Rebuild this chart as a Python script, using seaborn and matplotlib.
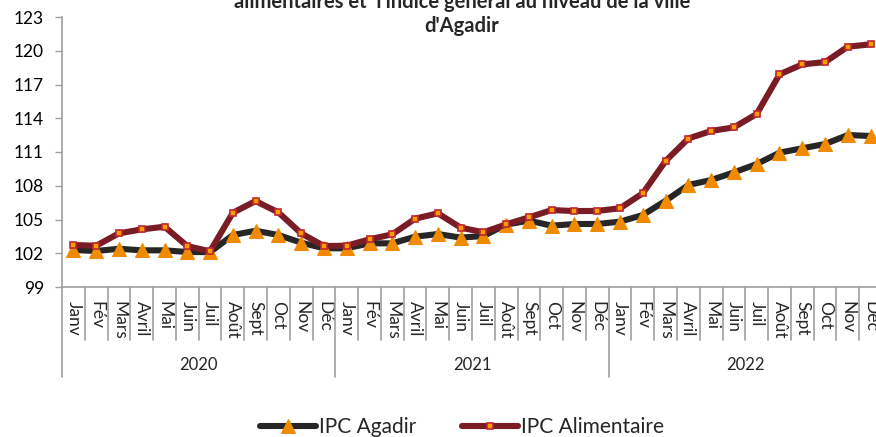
import matplotlib
matplotlib.use("Agg")
import matplotlib.pyplot as plt
import seaborn as sns
import pandas as pd
import numpy as np

months = ["Janv", "Fév", "Mars", "Avril", "Mai", "Juin", "Juil", "Août", "Sept", "Oct", "Nov", "Déc"]
years = ["2020", "2021", "2022"]

ipc_agadir = [102.29, 102.2, 102.4, 102.26, 102.26, 102.11, 102.1, 103.62, 104.0, 103.62, 102.94, 102.44,
              102.44, 102.88, 102.88, 103.47, 103.71, 103.39, 103.53, 104.55, 104.9, 104.45, 104.6, 104.6,
              104.81, 105.4, 106.67, 108.07, 108.51, 109.19, 109.93, 110.94, 111.33, 111.71, 112.51, 112.42]
ipc_alim = [102.73, 102.67, 103.77, 104.12, 104.36, 102.64, 102.17, 105.6, 106.64, 105.63, 103.77, 102.64,
            102.67, 103.24, 103.68, 105.07, 105.55, 104.28, 103.86, 104.57, 105.19, 105.84, 105.75, 105.76,
            106.0, 107.33, 110.2, 112.2, 112.87, 113.19, 114.38, 117.9, 118.79, 118.99, 120.36, 120.57]

title_lines = ["alimentaires et  l'indice général au niveau de la ville", "d'Agadir"]
yticks = [99, 102, 105, 108, 111, 114, 117, 120, 123]

sns.set_theme(style="white")
plt.rcParams['font.family'] = ['Lato', 'DejaVu Sans']

labels = [m for y in years for m in months]
idx = np.arange(len(labels))
df = pd.DataFrame({"idx": idx, "IPC Agadir": ipc_agadir, "IPC Alimentaire": ipc_alim})

fig = plt.figure(figsize=(8.76, 4.37), dpi=100)
W, H = 876, 437
ax = fig.add_axes([62 / W, (H - 287) / H, 820 / W, 270 / H])

sns.lineplot(data=df, x="idx", y="IPC Agadir", ax=ax, color="#262626", linewidth=4.4,
             marker="^", markersize=9.5, markerfacecolor="#F08A00", markeredgecolor="#F08A00",
             label="IPC Agadir", zorder=3)
sns.lineplot(data=df, x="idx", y="IPC Alimentaire", ax=ax, color="#7A1C25", linewidth=4.4,
             marker="s", markersize=4.5, markerfacecolor="#F5A000", markeredgecolor="#C0282F",
             markeredgewidth=1.2, label="IPC Alimentaire", zorder=4)

ax.set_xlim(-0.5, len(labels) - 0.5)
ax.set_ylim(yticks[0], yticks[-1])
ax.set_yticks(yticks)
ax.set_yticklabels([str(t) for t in yticks], fontsize=12.5, color="#000000")
ax.tick_params(axis="y", direction="out", length=5, color="#A0A0A0", width=1, pad=8, left=True)

ax.set_xticks(idx)
ax.set_xticklabels(labels, rotation=-90, fontsize=12.5, va="top", ha="center")
ax.tick_params(axis="x", length=0, pad=10)
ax.set_xlabel("")
ax.set_ylabel("")

for s in ["top", "right"]:
    ax.spines[s].set_visible(False)
for s in ["left", "bottom"]:
    ax.spines[s].set_color("#A0A0A0")
    ax.spines[s].set_linewidth(1.2)

trans = ax.get_xaxis_transform()
ah = 270.0
n = len(labels)
for k in range(n + 1):
    xb = k - 0.5
    if k % 12 == 0:
        y1 = -90 / ah
    else:
        y1 = -53 / ah
    ax.plot([xb, xb], [0, y1], transform=trans, color="#A0A0A0", linewidth=1.2, clip_on=False)

for j, yr in enumerate(years):
    ax.text(j * 12 + 5.5, -78 / ah, yr, transform=trans, ha="center", va="center", fontsize=12)

fig.text(462 / W, 1 - 2 / H, title_lines[0], ha="center", va="center", fontsize=14.5, fontweight="bold")
fig.text(462 / W, 1 - 26 / H, title_lines[1], ha="center", va="center", fontsize=14.5, fontweight="bold")

leg = ax.legend(loc="center", bbox_to_anchor=(462 / W, 1 - 427 / H), bbox_transform=fig.transFigure,
                ncol=2, frameon=False, fontsize=15, handlelength=2.7, columnspacing=2.2, handletextpad=0.15)

fig.savefig("out.png", dpi=100)
